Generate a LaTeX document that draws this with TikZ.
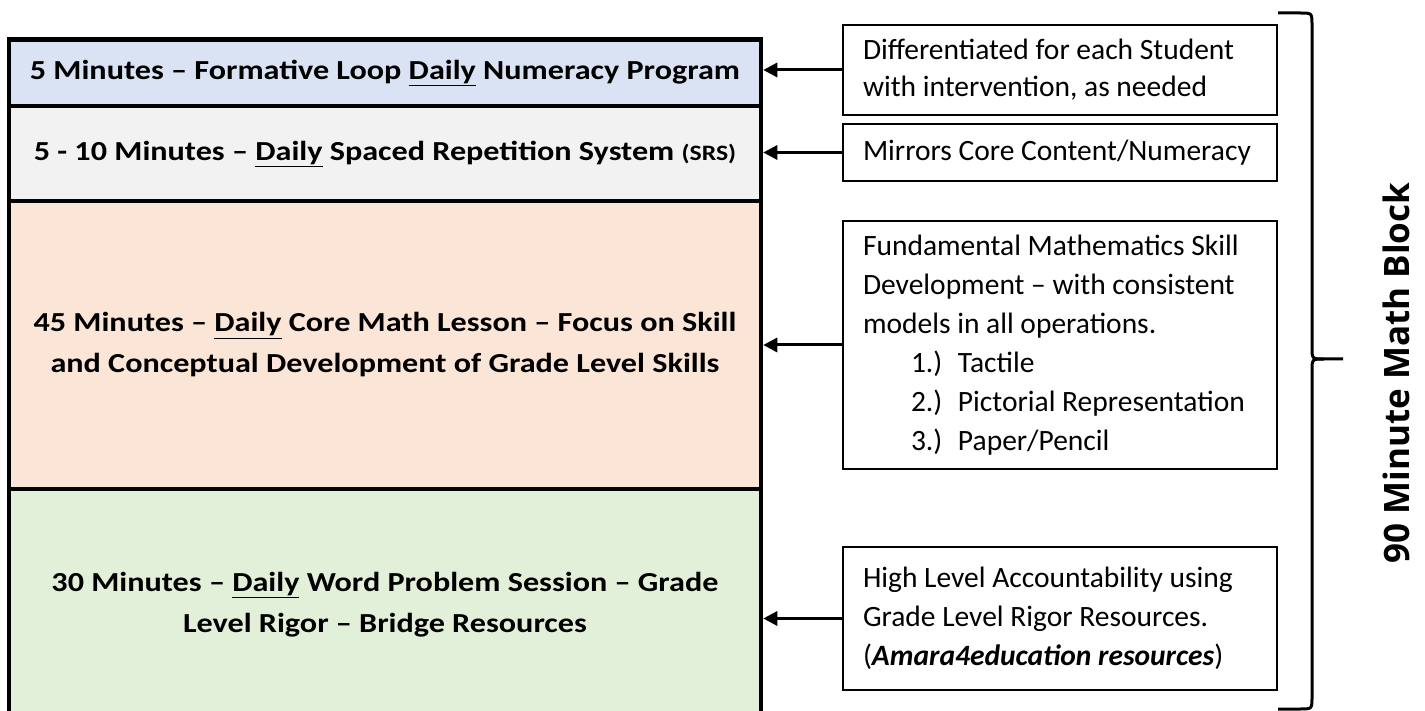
\documentclass[tikz,border=0pt]{standalone}
\usepackage{fontspec}
\setmainfont{Carlito}
\newfontfamily\filafont{Carlito}[FakeStretch=1.17]
\newfontfamily\bloquefont{Open Sans}
\usetikzlibrary{arrows.meta}

\definecolor{azulfila}{HTML}{DAE3F3}
\definecolor{grisfila}{HTML}{F2F2F2}
\definecolor{naranjafila}{HTML}{FBE5D6}
\definecolor{verdefila}{HTML}{E2F0D9}

\begin{document}
\begin{tikzpicture}[x=1pt, y=-1pt,
    fila/.style={draw, line width=4.5pt, minimum width=752pt, align=center, font=\filafont\bfseries\fontsize{27.5}{41}\selectfont},
    nota/.style={draw, line width=2.5pt, text width=394pt, inner xsep=20pt, align=flush left, font=\fontsize{29.5}{39}\selectfont},
    flecha/.style={-{Triangle[length=14pt,width=14pt]}, line width=3pt}]
            \useasboundingbox (0,0) rectangle (1425,711);
            \clip (0,0) rectangle (1425,711);

            % Bloques
            \node[fila, fill=azulfila, minimum height=66.5pt] (cinco) at (385,72.75) {5 Minutes – Formative Loop \underline{Daily} Numeracy Program};
            \node[fila, fill=grisfila, minimum height=95pt] (srs) at (385,153.5) {5 - 10 Minutes – \underline{Daily} Spaced Repetition System {\fontsize{22}{30}\selectfont(SRS)}};
            \node[fila, fill=naranjafila, minimum height=288pt] (core) at (385,345) {45 Minutes – \underline{Daily} Core Math Lesson – Focus on Skill\\and Conceptual Development of Grade Level Skills};
            \node[fila, fill=verdefila, minimum height=231pt] (word) at (385,604.5) {30 Minutes – \underline{Daily} Word Problem Session – Grade\\Level Rigor – Bridge Resources};

            % Notas
            \node[nota, minimum height=90pt, font=\fontsize{29.5}{37}\selectfont] (dif) at (1060,70) {Differentiated for each Student\\with intervention, as needed};
            \node[nota, minimum height=57pt] (mirror) at (1060,152.5) {Mirrors Core Content/Numeracy};
            \node[nota, minimum height=248pt] (fund) at (1060,345) {Fundamental Mathematics Skill\\Development – with consistent\\models in all operations.\\
              \hspace*{48pt}\makebox[47pt][l]{1.)}Tactile\\
              \hspace*{48pt}\makebox[47pt][l]{2.)}Pictorial Representation\\
              \hspace*{48pt}\makebox[47pt][l]{3.)}Paper/Pencil};
            \node[nota, minimum height=143pt] (high) at (1060,618.5) {High Level Accountability using\\Grade Level Rigor Resources.\\(\textbf{\textit{Amara4education resources}})};

            % Flechas
            \draw[flecha] (dif.west) -- (dif.west -| cinco.east);
            \draw[flecha] (mirror.west) -- (mirror.west -| srs.east);
            \draw[flecha] (fund.west) -- (fund.west -| core.east);
            \draw[flecha] (high.west) -- (high.west -| word.east);

            % Llave
            \draw[line width=3pt] (1278,13) -- (1300,13) .. controls (1312,13) .. (1312,25) -- (1312,347) .. controls (1312,359) .. (1324,359) -- (1343,359);
            \draw[line width=3pt] (1324,359) .. controls (1312,359) .. (1312,371) -- (1312,697) .. controls (1312,709) .. (1300,709) -- (1278,709);
            \node[rotate=90, anchor=base, font=\bloquefont\bfseries\fontsize{35}{40}\selectfont] (titulo) at (1409,373) {90 Minute Math Block};
          \end{tikzpicture}
\end{document}
